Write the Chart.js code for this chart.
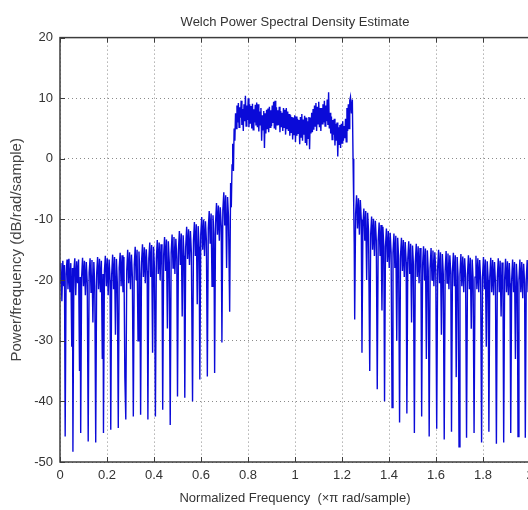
<!DOCTYPE html>
<html>
<head>
<meta charset="utf-8">
<title>Welch Power Spectral Density Estimate</title>
<script src="https://cdn.jsdelivr.net/npm/chart.js@4.4.1/dist/chart.umd.min.js"></script>
<style>
  html, body { margin: 0; padding: 0; background: #fff; overflow: hidden; }
  #wrap { position: absolute; left: 0; top: 0; width: 540px; height: 510px; }
</style>
</head>
<body>
<div id="wrap"><canvas id="psdChart"></canvas></div>
<script>
// ============================================================
// DATA - Welch PSD estimate
// ============================================================

// --- Tick values ---
const xTicks = [0, 0.2, 0.4, 0.6, 0.8, 1, 1.2, 1.4, 1.6, 1.8, 2];
const yTicks = [-50, -40, -30, -20, -10, 0, 10, 20];

// --- Left side lobes (0 -> 0.722) ---
const freqLeft = [
  0.000, 0.004, 0.008, 0.012, 0.016, 0.019, 0.022,
  0.026, 0.030, 0.034, 0.038, 0.042, 0.046, 0.050, 0.053, 0.055,
  0.059, 0.063, 0.067, 0.071, 0.075, 0.079, 0.083, 0.086, 0.088,
  0.092, 0.096, 0.100, 0.104, 0.108, 0.112, 0.116, 0.120,
  0.124, 0.128, 0.132, 0.136, 0.140, 0.144, 0.148, 0.152,
  0.156, 0.160, 0.164, 0.168, 0.172, 0.176, 0.180, 0.183, 0.185,
  0.189, 0.193, 0.197, 0.201, 0.205, 0.209, 0.213, 0.216,
  0.220, 0.224, 0.228, 0.232, 0.236, 0.240, 0.244, 0.248,
  0.252, 0.256, 0.260, 0.264, 0.268, 0.272, 0.276, 0.280,
  0.284, 0.288, 0.292, 0.296, 0.300, 0.304, 0.308, 0.312,
  0.316, 0.320, 0.324, 0.328, 0.332, 0.336, 0.340, 0.343,
  0.347, 0.351, 0.355, 0.359, 0.363, 0.367, 0.371, 0.374,
  0.378, 0.382, 0.386, 0.390, 0.394, 0.398, 0.402, 0.406,
  0.410, 0.414, 0.418, 0.422, 0.426, 0.430, 0.434, 0.437,
  0.441, 0.445, 0.449, 0.453, 0.457, 0.461, 0.465, 0.469,
  0.473, 0.477, 0.481, 0.485, 0.489, 0.493, 0.497, 0.500,
  0.504, 0.508, 0.512, 0.516, 0.520, 0.524, 0.528, 0.531,
  0.535, 0.539, 0.543, 0.547, 0.551, 0.555, 0.559, 0.564,
  0.568, 0.572, 0.576, 0.580, 0.584, 0.588, 0.592, 0.595,
  0.599, 0.603, 0.607, 0.611, 0.615, 0.619, 0.623, 0.627,
  0.631, 0.635, 0.639, 0.643, 0.647, 0.651, 0.655, 0.658,
  0.662, 0.666, 0.670, 0.674, 0.678, 0.682, 0.686, 0.689,
  0.693, 0.697, 0.701, 0.705, 0.709, 0.713, 0.717, 0.722
];
const psdLeft = [
  -20.5, -17.2, -23.5, -16.8, -21.0, -17.5, -45.8,
  -19.0, -16.6, -21.5, -16.5, -22.0, -17.2, -31.0, -18.0, -48.3,
  -18.5, -16.4, -22.5, -16.9, -20.5, -16.6, -35.0, -19.5, -45.2,
  -19.5, -16.3, -21.0, -16.8, -22.5, -17.0, -20.5, -46.6,
  -18.8, -16.4, -22.0, -16.7, -27.0, -17.0, -21.0, -46.8,
  -19.0, -16.2, -21.5, -16.5, -22.0, -16.8, -33.0, -19.0, -45.2,
  -18.5, -16.0, -21.0, -16.4, -22.5, -16.6, -20.0, -44.7,
  -19.0, -15.8, -21.5, -16.2, -29.0, -16.5, -20.5, -44.4,
  -18.0, -15.5, -21.0, -15.9, -22.0, -16.2, -36.0, -43.0,
  -18.5, -15.0, -20.5, -15.4, -21.5, -15.8, -19.5, -42.5,
  -17.5, -14.5, -20.0, -15.0, -30.0, -15.3, -19.0, -42.2,
  -17.0, -14.1, -19.5, -14.6, -20.5, -14.9, -18.5, -43.0,
  -16.5, -13.8, -19.5, -14.2, -32.0, -14.5, -18.0, -42.5,
  -16.5, -13.4, -19.0, -13.8, -20.0, -14.1, -17.5, -41.4,
  -16.0, -12.9, -18.5, -13.3, -28.0, -13.6, -17.0, -43.9,
  -15.5, -12.5, -18.0, -12.9, -19.0, -13.2, -16.5, -39.2,
  -15.0, -11.9, -17.5, -12.3, -26.0, -12.6, -16.0, -39.4,
  -14.5, -11.2, -16.5, -11.6, -17.5, -11.9, -15.5, -40.0,
  -13.5, -10.4, -16.0, -10.8, -24.0, -11.1, -14.5, -36.4,
  -12.5, -9.6, -15.0, -10.0, -16.0, -10.3, -13.5, -35.9,
  -11.5, -8.6, -14.0, -9.0, -21.0, -9.3, -12.5, -35.3,
  -10.5, -7.3, -12.5, -7.7, -13.5, -8.0, -11.0, -30.3,
  -8.5, -5.5, -11.0, -6.0, -18.0, -6.3, -9.5, -25.2
];

// --- Main lobe (0.726 -> 1.252) ---
const freqMain = [
  0.726, 0.729, 0.732, 0.735, 0.738, 0.741, 0.744, 0.747,
  0.750, 0.753, 0.756, 0.759, 0.762, 0.765, 0.768, 0.771, 0.774, 0.777,
  0.780, 0.783, 0.786, 0.789, 0.792, 0.795, 0.798, 0.801, 0.804, 0.807,
  0.810, 0.813, 0.816, 0.819, 0.822, 0.825, 0.828, 0.831, 0.834, 0.837,
  0.840, 0.843, 0.846, 0.849, 0.852, 0.855, 0.858, 0.861, 0.864, 0.867,
  0.870, 0.873, 0.876, 0.879, 0.882, 0.885, 0.888, 0.891, 0.894, 0.897,
  0.900, 0.903, 0.906, 0.909, 0.912, 0.915, 0.918, 0.921, 0.924, 0.927,
  0.930, 0.933, 0.936, 0.939, 0.942, 0.945, 0.948, 0.951, 0.954, 0.957,
  0.960, 0.963, 0.966, 0.969, 0.972, 0.975, 0.978, 0.981, 0.984, 0.987,
  0.990, 0.993, 0.996, 0.999, 1.002, 1.005, 1.008, 1.011, 1.014, 1.017,
  1.020, 1.023, 1.026, 1.029, 1.032, 1.035, 1.038, 1.041, 1.044, 1.047,
  1.050, 1.053, 1.056, 1.059, 1.062, 1.065, 1.068, 1.071, 1.074, 1.077,
  1.080, 1.083, 1.086, 1.089, 1.092, 1.095, 1.098, 1.101, 1.104, 1.107,
  1.110, 1.113, 1.116, 1.119, 1.122, 1.125, 1.128, 1.131, 1.134, 1.137,
  1.140, 1.143, 1.146, 1.149, 1.152, 1.155, 1.158, 1.161, 1.164, 1.167,
  1.170, 1.173, 1.176, 1.179, 1.182, 1.185, 1.188, 1.191, 1.194, 1.197,
  1.200, 1.203, 1.206, 1.209, 1.212, 1.215, 1.218, 1.221, 1.224, 1.227,
  1.230, 1.233, 1.236,
  1.240, 1.244, 1.247, 1.250, 1.252
];
const psdMain = [
  -4.0, -8.0, -1.0, 2.5, -2.0, 5.0, 3.0, 7.5,
  5.0, 8.8, 6.0, 9.2, 5.2, 8.5, 6.8, 9.6, 5.6, 8.2,
  4.6, 9.0, 6.2, 10.4, 5.4, 8.8, 6.4, 10.0, 5.2, 9.0,
  5.8, 8.7, 5.0, 9.1, 4.8, 8.2, 6.0, 8.9, 5.5, 9.3,
  5.2, 9.0, 4.5, 7.8, 5.6, 8.4, 3.0, 7.2, 4.8, 7.9,
  1.8, 7.5, 4.2, 8.1, 5.0, 8.3, 4.4, 8.6, 5.2, 8.0,
  5.4, 8.8, 5.9, 9.4, 5.0, 9.6, 4.8, 8.5, 5.6, 8.0,
  5.6, 8.6, 4.4, 7.9, 5.2, 7.6, 4.6, 8.4, 5.2, 8.1,
  4.0, 8.4, 5.0, 7.8, 4.6, 7.4, 3.8, 7.2, 4.4, 6.9,
  3.2, 6.8, 4.0, 7.2, 2.8, 7.0, 3.8, 6.6, 4.2, 6.4,
  2.4, 6.9, 3.6, 7.4, 3.0, 6.5, 4.0, 7.1, 2.6, 6.8,
  2.2, 6.2, 3.4, 6.9, 1.6, 6.8, 4.2, 7.6, 4.4, 8.2,
  4.8, 8.8, 5.4, 9.2, 4.6, 8.6, 5.8, 9.4, 5.2, 8.4,
  4.6, 8.4, 5.8, 9.0, 6.0, 9.6, 5.4, 8.8, 6.2, 9.8,
  5.6, 11.0, 5.0, 7.6, 4.2, 7.0, 3.2, 6.4, 4.0, 6.6,
  2.2, 5.8, 3.0, 6.0, 0.4, 5.2, 2.4, 5.6, 1.8, 5.8,
  2.6, 6.2, 3.0, 5.4, 3.4, 6.6, 2.8, 8.4, 4.6, 9.0,
  5.0, 9.6, 10.2,
  7.5, 9.8, 0.0, -8.0, -14.0
];

// --- Right side lobes (1.254 -> 2) ---
const freqRight = [
  1.254,
  1.258, 1.262, 1.266, 1.270, 1.274, 1.278, 1.282, 1.285,
  1.289, 1.293, 1.297, 1.301, 1.305, 1.309, 1.313, 1.318,
  1.322, 1.326, 1.330, 1.334, 1.338, 1.342, 1.346, 1.350,
  1.354, 1.358, 1.362, 1.366, 1.370, 1.374, 1.378, 1.381,
  1.385, 1.389, 1.393, 1.397, 1.401, 1.405, 1.409, 1.413,
  1.417, 1.421, 1.425, 1.429, 1.433, 1.437, 1.441, 1.445,
  1.449, 1.453, 1.457, 1.461, 1.465, 1.469, 1.473, 1.476,
  1.480, 1.484, 1.488, 1.492, 1.496, 1.500, 1.504, 1.508,
  1.512, 1.516, 1.520, 1.524, 1.528, 1.532, 1.536, 1.539,
  1.543, 1.547, 1.551, 1.555, 1.559, 1.563, 1.567, 1.571,
  1.575, 1.579, 1.583, 1.587, 1.591, 1.595, 1.599, 1.603,
  1.607, 1.611, 1.615, 1.619, 1.623, 1.627, 1.631, 1.635,
  1.639, 1.643, 1.647, 1.651, 1.655, 1.659, 1.663, 1.666,
  1.670, 1.674, 1.678, 1.682, 1.686, 1.690, 1.694, 1.698,
  1.702, 1.706, 1.710, 1.714, 1.718, 1.722, 1.726, 1.730,
  1.734, 1.738, 1.742, 1.746, 1.750, 1.754, 1.758, 1.762,
  1.766, 1.770, 1.774, 1.778, 1.782, 1.786, 1.790, 1.794,
  1.798, 1.802, 1.806, 1.810, 1.814, 1.818, 1.822, 1.825,
  1.829, 1.833, 1.837, 1.841, 1.845, 1.849, 1.853, 1.857,
  1.861, 1.865, 1.869, 1.873, 1.877, 1.881, 1.885, 1.888,
  1.892, 1.896, 1.900, 1.904, 1.908, 1.912, 1.915, 1.918,
  1.922, 1.926, 1.930, 1.934, 1.938, 1.942, 1.946, 1.949,
  1.953, 1.957, 1.961, 1.965, 1.969, 1.973, 1.977, 1.980,
  1.984, 1.988, 1.992, 1.996, 2.000
];
const psdRight = [
  -26.5,
  -9.0, -6.0, -11.5, -6.5, -12.5, -6.8, -10.0, -32.0,
  -11.0, -8.2, -13.5, -8.6, -20.0, -8.9, -12.0, -35.0,
  -12.5, -9.5, -15.0, -9.9, -16.0, -10.2, -13.5, -38.0,
  -13.5, -10.5, -16.0, -10.9, -25.0, -11.2, -14.5, -40.0,
  -14.5, -11.5, -17.0, -11.9, -18.0, -12.2, -15.5, -41.0,
  -15.5, -12.3, -18.0, -12.7, -30.0, -13.0, -16.5, -43.5,
  -16.0, -13.0, -18.5, -13.4, -19.5, -13.7, -17.0, -42.0,
  -16.5, -13.6, -19.0, -14.0, -27.0, -14.3, -17.5, -45.2,
  -17.0, -14.0, -19.5, -14.4, -20.5, -14.7, -18.0, -42.5,
  -17.5, -14.4, -20.0, -14.8, -33.0, -15.1, -18.5, -45.8,
  -18.0, -14.7, -20.0, -15.1, -21.0, -15.4, -18.5, -44.5,
  -18.0, -15.0, -20.5, -15.4, -29.0, -15.7, -19.0, -46.3,
  -18.5, -15.2, -20.5, -15.6, -21.5, -15.9, -19.0, -45.0,
  -18.5, -15.5, -21.0, -15.9, -36.0, -16.2, -19.5, -47.5,
  -19.0, -15.7, -21.0, -16.1, -22.0, -16.4, -19.5, -46.0,
  -19.0, -15.9, -21.5, -16.3, -28.0, -16.6, -20.0, -45.2,
  -19.5, -16.0, -21.5, -16.4, -22.0, -16.7, -20.0, -46.8,
  -19.5, -16.2, -21.5, -16.6, -31.0, -16.9, -20.0, -45.0,
  -19.5, -16.3, -22.0, -16.7, -22.5, -17.0, -20.5, -47.0,
  -19.5, -16.4, -22.0, -16.8, -26.0, -17.1, -20.5, -46.8,
  -20.0, -16.5, -22.0, -16.9, -22.5, -17.2, -20.5, -45.2,
  -20.0, -16.6, -22.0, -17.0, -33.0, -17.3, -20.5, -45.8,
  -20.0, -16.6, -22.0, -17.0, -23.0, -17.3, -20.5, -46.0,
  -20.0, -16.7, -22.0, -17.0, -19.5
];

// ============================================================
// GRAPHIQUE - MATLAB-like axes with Chart.js
// ============================================================

document.addEventListener("DOMContentLoaded", () => {
  const canvas = document.getElementById("psdChart");
  if (!canvas || typeof Chart === "undefined") return;

  const FONT = "'Liberation Sans', Arial, Helvetica, sans-serif";
  const TEXT = "#333333";

  // --- Build the point list from the three segments ---
  const freq = freqLeft.concat(freqMain, freqRight);
  const psd = psdLeft.concat(psdMain, psdRight);
  const points = freq.map((f, i) => ({ x: f, y: psd[i] }));

  // --- Box + inward tick marks (MATLAB style) ---
  const axesBox = {
    id: "axesBox",
    afterDatasetsDraw(chart) {
      const { ctx, chartArea: a, scales } = chart;
      ctx.save();
      ctx.strokeStyle = "#3c3c3c";
      ctx.lineWidth = 1;
      ctx.beginPath();
      xTicks.forEach(v => {
        const px = Math.round(scales.x.getPixelForValue(v)) + 0.5;
        ctx.moveTo(px, a.bottom); ctx.lineTo(px, a.bottom - 5);
        ctx.moveTo(px, a.top); ctx.lineTo(px, a.top + 5);
      });
      yTicks.forEach(v => {
        const py = Math.round(scales.y.getPixelForValue(v)) + 0.5;
        ctx.moveTo(a.left, py); ctx.lineTo(a.left + 5, py);
      });
      ctx.stroke();
      ctx.lineWidth = 1.5;
      ctx.strokeRect(a.left, a.top, a.right - a.left, a.bottom - a.top);
      ctx.restore();
    }
  };

  new Chart(canvas, {
    type: "line",
    data: {
      datasets: [{
        label: "PSD",
        data: points,
        borderColor: "#0a0ad8",
        borderWidth: 1.4,
        pointRadius: 0,
        tension: 0,
        fill: false
      }]
    },
    options: {
      responsive: true,
      maintainAspectRatio: false,
      animation: false,
      layout: { padding: { left: 0, right: 10, top: 0, bottom: 0 } },
      plugins: {
        legend: { display: false },
        tooltip: { enabled: false },
        title: {
          display: true,
          fullSize: false,
          text: "Welch Power Spectral Density Estimate",
          color: TEXT,
          font: { family: FONT, size: 13, weight: "normal" },
          padding: { top: 15, bottom: 7 }
        }
      },
      scales: {
        x: {
          type: "linear",
          min: 0,
          max: 2,
          afterBuildTicks: s => { s.ticks = xTicks.map(v => ({ value: v })); },
          afterFit: s => { s.height = 48; },
          grid: { color: "#8a8a8a", lineWidth: 1, drawTicks: false },
          border: { display: false, dash: [1, 3] },
          ticks: {
            color: TEXT,
            font: { family: FONT, size: 13 },
            padding: 6,
            maxRotation: 0,
            autoSkip: false,
            callback: v => String(v)
          },
          title: {
            display: true,
            text: "Normalized Frequency  (\u00d7\u03c0 rad/sample)",
            color: TEXT,
            font: { family: FONT, size: 13 },
            padding: { top: 0, bottom: 4 }
          }
        },
        y: {
          type: "linear",
          min: -50,
          max: 20,
          afterBuildTicks: s => { s.ticks = yTicks.map(v => ({ value: v })); },
          afterFit: s => { s.width = 60; },
          grid: { color: "#8a8a8a", lineWidth: 1, drawTicks: false },
          border: { display: false, dash: [1, 3] },
          ticks: {
            color: TEXT,
            font: { family: FONT, size: 13 },
            padding: 7,
            autoSkip: false,
            callback: v => String(v)
          },
          title: {
            display: true,
            text: "Power/frequency (dB/rad/sample)",
            color: "#444444",
            font: { family: FONT, size: 15 },
            padding: { top: 8, bottom: 0 }
          }
        }
      }
    },
    plugins: [axesBox]
  });
});
</script>
</body>
</html>
